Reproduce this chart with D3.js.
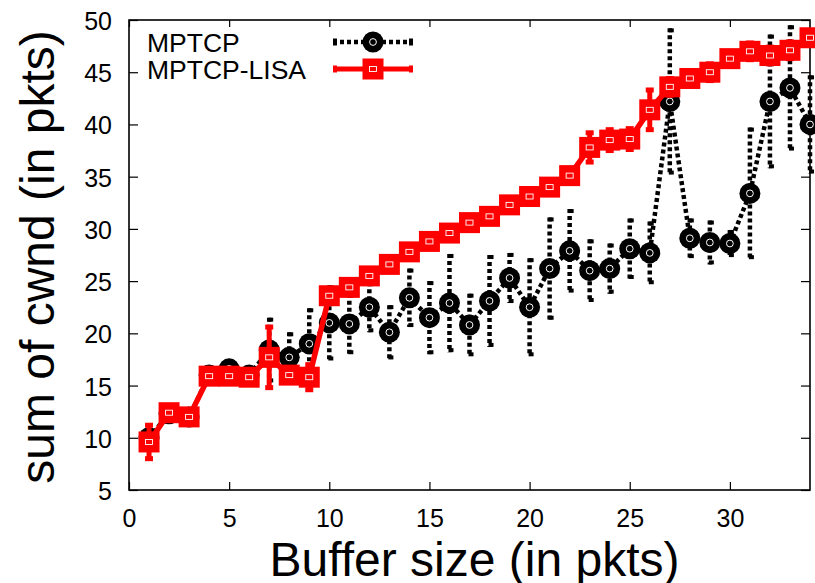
<!DOCTYPE html>
<html>
<head>
<meta charset="utf-8">
<script src="https://cdn.jsdelivr.net/npm/d3@7"></script>
<style>
  html, body { margin: 0; padding: 0; background: #fff; }
  svg { display: block; }
  text { font-family: "Liberation Sans", Arial, Helvetica, sans-serif; }
</style>
</head>
<body>
<svg id="chart" width="815" height="583"></svg>
<script>
// ---- data ----
const bufferSize = [1,2,3,4,5,6,7,8,9,10,11,12,13,14,15,16,17,18,19,20,21,22,23,24,25,26,27,28,29,30,31,32,33,34];
const mptcpMean = [10.0,12.3,12.0,16.0,16.6,16.0,18.4,17.7,19.0,21.0,20.9,22.5,20.1,23.4,21.5,22.9,20.8,23.1,25.3,22.5,26.2,27.9,26.0,26.2,28.1,27.7,42.2,29.1,28.7,28.6,33.4,42.2,43.5,40.0];
const mptcpErr  = [0.5,0.4,0.4,0.4,0.4,0.4,3.1,2.4,3.4,3.6,2.9,2.4,2.6,2.8,3.5,4.7,3.0,4.4,2.4,4.7,4.9,4.0,3.0,2.4,2.9,3.0,7.0,1.9,2.1,1.3,6.3,6.4,6.0,4.7];
const lisaMean  = [9.6,12.4,12.0,15.9,15.9,15.8,17.7,16.0,15.8,23.6,24.4,25.5,26.6,27.8,28.8,29.6,30.6,31.2,32.3,33.1,34.0,35.1,37.8,38.5,38.6,41.4,43.6,44.4,45.0,46.3,47.0,46.6,47.1,48.3];
const lisaErr   = [1.6,0.3,0.3,0.3,0.3,0.3,2.9,0.5,1.2,0.6,0.5,0.5,0.5,0.5,0.5,0.5,0.5,0.5,0.5,0.5,0.5,0.5,1.4,1.0,1.0,1.9,0.8,0.5,0.8,0.5,0.8,0.8,0.8,0.5];
const xTicks = [0,5,10,15,20,25,30];
const yTicks = [5,10,15,20,25,30,35,40,45,50];
const seriesNames = ["MPTCP", "MPTCP-LISA"];
const xLabel = "Buffer size (in pkts)";
const yLabel = "sum of cwnd (in pkts)";

// ---- layout ----
const L = 129, R = 810, T = 20, B = 490;
const svg = d3.select("#chart");
const x = d3.scaleLinear().domain([0, 34]).range([L, R]);
const y = d3.scaleLinear().domain([5, 50]).range([B, T]);

function styleAxis(g) {
  g.select(".domain").remove();
  g.selectAll(".tick line").attr("stroke", "#000").attr("stroke-width", 1.2);
}
svg.append("g").attr("transform", `translate(0,${B})`)
  .call(d3.axisBottom(x).tickValues(xTicks).tickSizeInner(-8).tickSizeOuter(0).tickPadding(19))
  .call(styleAxis)
  .selectAll("text").attr("font-size", 25).attr("fill", "#000").attr("font-family", "Liberation Sans, Arial, sans-serif");
svg.append("g").attr("transform", `translate(0,${T})`)
  .call(d3.axisTop(x).tickValues(xTicks).tickSizeInner(-7).tickSizeOuter(0).tickFormat(""))
  .call(styleAxis);
svg.append("g").attr("transform", `translate(${L},0)`)
  .call(d3.axisLeft(y).tickValues(yTicks).tickSizeInner(-9).tickSizeOuter(0).tickPadding(17))
  .call(styleAxis)
  .selectAll("text").attr("font-size", 25).attr("fill", "#000").attr("dy", "0.38em").attr("font-family", "Liberation Sans, Arial, sans-serif");
svg.append("g").attr("transform", `translate(${R},0)`)
  .call(d3.axisRight(y).tickValues(yTicks).tickSizeInner(-9).tickSizeOuter(0).tickFormat(""))
  .call(styleAxis);

svg.append("rect").attr("x", L).attr("y", T).attr("width", R - L).attr("height", B - T)
  .attr("fill", "none").attr("stroke", "#000").attr("stroke-width", 1.6);

svg.append("text").attr("x", (L + R) / 2 + 5).attr("y", 576).attr("text-anchor", "middle")
  .attr("font-size", 48).attr("fill", "#000").text(xLabel);
svg.append("text").attr("transform", `translate(54,${(T + B) / 2 + 2}) rotate(-90)`)
  .attr("text-anchor", "middle").attr("font-size", 48).attr("fill", "#000").text(yLabel);

// ---- series ----
const mptcp = bufferSize.map((b, i) => ({ x: b, y: mptcpMean[i], e: mptcpErr[i] }));
const lisa = bufferSize.map((b, i) => ({ x: b, y: lisaMean[i], e: lisaErr[i] }));
const line = d3.line().x(d => x(d.x)).y(d => y(d.y));

const gM = svg.append("g");
const dash = "4,3";
gM.selectAll("line.eb").data(mptcp).join("line")
  .attr("x1", d => x(d.x)).attr("x2", d => x(d.x))
  .attr("y1", d => y(d.y + d.e)).attr("y2", d => y(d.y - d.e))
  .attr("stroke", "#000").attr("stroke-width", 4.5).attr("stroke-dasharray", dash);
gM.selectAll("line.capt").data(mptcp).join("line")
  .attr("x1", d => x(d.x) - 1).attr("x2", d => x(d.x) + 4)
  .attr("y1", d => y(d.y + d.e) + 2).attr("y2", d => y(d.y + d.e) + 2)
  .attr("stroke", "#000").attr("stroke-width", 4);
gM.selectAll("line.capb").data(mptcp).join("line")
  .attr("x1", d => x(d.x) - 1).attr("x2", d => x(d.x) + 4)
  .attr("y1", d => y(d.y - d.e) - 2).attr("y2", d => y(d.y - d.e) - 2)
  .attr("stroke", "#000").attr("stroke-width", 4);
gM.append("path").datum(mptcp).attr("d", line).attr("fill", "none")
  .attr("stroke", "#000").attr("stroke-width", 4.5).attr("stroke-dasharray", dash);
function circleMarker(g, cx, cy) {
  g.append("circle").attr("cx", cx).attr("cy", cy).attr("r", 10.5).attr("fill", "#000");
  g.append("circle").attr("cx", cx).attr("cy", cy).attr("r", 3.4).attr("fill", "none")
    .attr("stroke", "#fff").attr("stroke-width", 1);
}
mptcp.forEach(d => circleMarker(gM, x(d.x), y(d.y)));

const red = "#ff0000";
const gL = svg.append("g");
gL.selectAll("line.eb").data(lisa).join("line")
  .attr("x1", d => x(d.x)).attr("x2", d => x(d.x))
  .attr("y1", d => y(d.y + d.e)).attr("y2", d => y(d.y - d.e))
  .attr("stroke", red).attr("stroke-width", 5);
gL.selectAll("line.capt").data(lisa).join("line")
  .attr("x1", d => x(d.x) - 4).attr("x2", d => x(d.x) + 4)
  .attr("y1", d => y(d.y + d.e)).attr("y2", d => y(d.y + d.e))
  .attr("stroke", red).attr("stroke-width", 5);
gL.selectAll("line.capb").data(lisa).join("line")
  .attr("x1", d => x(d.x) - 4).attr("x2", d => x(d.x) + 4)
  .attr("y1", d => y(d.y - d.e)).attr("y2", d => y(d.y - d.e))
  .attr("stroke", red).attr("stroke-width", 5);
gL.append("path").datum(lisa).attr("d", line).attr("fill", "none")
  .attr("stroke", red).attr("stroke-width", 5.5);
function squareMarker(g, cx, cy) {
  g.append("rect").attr("x", cx - 10.5).attr("y", cy - 10.5).attr("width", 21).attr("height", 21).attr("fill", red);
  g.append("rect").attr("x", cx - 3.5).attr("y", cy - 2.5).attr("width", 7).attr("height", 5).attr("fill", "none")
    .attr("stroke", "#fff").attr("stroke-width", 0.9);
}
lisa.forEach(d => squareMarker(gL, x(d.x), y(d.y)));

// ---- legend ----
const legRows = [42, 69];
const lx1 = 333, lx2 = 413, lcx = 373;
const gLeg = svg.append("g");
seriesNames.forEach((name, i) => {
  gLeg.append("text").attr("x", 147).attr("y", legRows[i] + 9.5).attr("font-size", 26.5).attr("fill", "#000").text(name);
});
gLeg.append("line").attr("x1", lx1).attr("x2", lx2).attr("y1", legRows[0]).attr("y2", legRows[0])
  .attr("stroke", "#000").attr("stroke-width", 4.5).attr("stroke-dasharray", dash);
[lx1 + 2, lx2 - 2].forEach(cx => gLeg.append("line").attr("x1", cx).attr("x2", cx)
  .attr("y1", legRows[0] - 3.5).attr("y2", legRows[0] + 3.5).attr("stroke", "#000").attr("stroke-width", 4));
circleMarker(gLeg, lcx, legRows[0]);
gLeg.append("line").attr("x1", lx1).attr("x2", lx2).attr("y1", legRows[1]).attr("y2", legRows[1])
  .attr("stroke", red).attr("stroke-width", 5);
[lx1 + 2, lx2 - 2].forEach(cx => gLeg.append("line").attr("x1", cx).attr("x2", cx)
  .attr("y1", legRows[1] - 3.5).attr("y2", legRows[1] + 3.5).attr("stroke", red).attr("stroke-width", 4));
squareMarker(gLeg, lcx, legRows[1]);
</script>
</body>
</html>
